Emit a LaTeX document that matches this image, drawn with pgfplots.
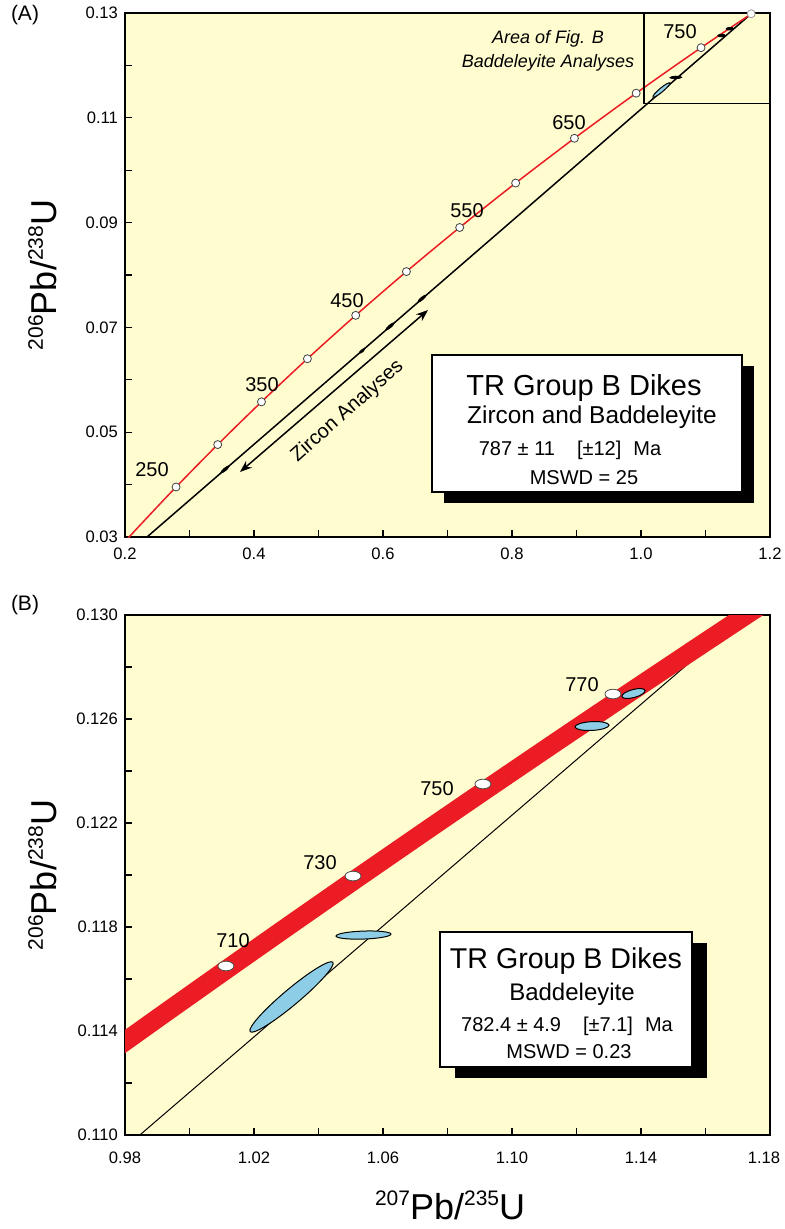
\documentclass[border=0pt]{standalone}
\usepackage{fontspec}
\setmainfont{Liberation Sans}
\usepackage{pgfplots}
\pgfplotsset{compat=1.18}
\usetikzlibrary{arrows.meta}

\definecolor{paper}{HTML}{FFFDCF}
\definecolor{conc}{HTML}{EC1C24}
\definecolor{ellb}{HTML}{8ECDE6}

\newcommand\iso[1]{\raisebox{6.8pt}{\fontsize{10.5}{11}\selectfont #1}}

\pgfplotsset{
  panel/.style={
    scale only axis, width=322.5pt,
    axis background/.style={fill=paper},
    axis line style={line width=0.8pt},
    tick align=inside, tick pos=left,
    minor tick num=1,
    major tick length=3.5pt, minor tick length=3.5pt,
    tick style={black, line width=0.6pt},
    /pgf/number format/assume math mode=true,
    tick label style={font=\fontsize{8.3}{10}\selectfont},
    ylabel style={at={(axis description cs:-0.128,0.5)}, anchor=center,
      font=\fontsize{18}{20}\selectfont},
  },
  ell/.style n args={4}{only marks, mark=*, mark size=1pt,
    mark options={fill=#4, draw=black, line width=0.5pt, rotate=#1, xscale=#2, yscale=#3}},
}

\begin{document}
\begin{tikzpicture}
\path[use as bounding box] (-62.5pt,6.5pt) rectangle (330pt,-608pt);

% ---------------- panel A
\begin{axis}[panel, name=A, at={(0pt,0pt)}, anchor=north west, height=262pt,
  xmin=0.2, xmax=1.2, ymin=0.03, ymax=0.13,
  xtick={0.2,0.4,...,1.2},
  ytick={0.03,0.05,0.07,0.09,0.11,0.13},
  xticklabel style={yshift=-2pt, /pgf/number format/.cd, fixed, fixed zerofill, precision=1},
  yticklabel style={/pgf/number format/.cd, fixed, fixed zerofill, precision=2},
  ylabel={\iso{206}Pb/\iso{238}U},
]
% discordia
\addplot[black, line width=0.75pt] coordinates {(0.2341,0.03) (1.1708,0.12985)};
% zircon and baddeleyite analyses (tiny at this scale)
\addplot[ell={40}{2.6}{0.6}{black}] coordinates {(0.355,0.0429) (0.6109,0.0702) (0.6605,0.0755)};
\addplot[ell={40}{1.6}{0.5}{black}] coordinates {(0.5674,0.0655)};
\addplot[ell={40}{5.5}{1.0}{ellb}] coordinates {(1.0316,0.1153)};
\addplot[ell={2}{2.8}{0.6}{black}] coordinates {(1.0540,0.1177)};
\addplot[ell={3}{1.8}{0.6}{black}] coordinates {(1.1248,0.1257) (1.1377,0.1270)};
% concordia
\addplot[conc, line width=0.75pt, smooth] coordinates {
  (0.2000,0.02913) (0.21770,0.031511) (0.27917,0.039543) (0.34374,0.047637)
  (0.41156,0.055794) (0.48281,0.064016) (0.55766,0.072300) (0.63628,0.080650)
  (0.71887,0.089064) (0.80563,0.097544) (0.89677,0.106090) (0.99251,0.114702)
  (1.09308,0.123382) (1.19873,0.132129)};
\addplot[only marks, mark=*, mark size=2pt, mark options={fill=white, draw=black!75, line width=0.4pt}]
  coordinates {
  (0.27917,0.039543) (0.34374,0.047637) (0.41156,0.055794) (0.48281,0.064016)
  (0.55766,0.072300) (0.63628,0.080650) (0.71887,0.089064) (0.80563,0.097544)
  (0.89677,0.106090) (0.99251,0.114702) (1.09308,0.123382)};
\addplot[only marks, mark=*, mark size=2pt, mark options={fill=white, draw=black!40, line width=0.4pt}]
  coordinates {(1.1708,0.12985)};
% area of fig. B
\addplot[black, line width=0.8pt] coordinates {(1.005,0.1127) (1.2,0.1127) (1.2,0.13) (1.005,0.13) (1.005,0.1127)};
% zircon arrow
\addplot[black, line width=0.75pt, {Stealth[length=6pt,width=4.5pt]}-{Stealth[length=6pt,width=4.5pt]}]
  coordinates {(0.3783,0.04241) (0.6698,0.07332)};
\node[font=\fontsize{10}{12}\selectfont, rotate=41.5, inner sep=0pt] at (axis cs:0.5450,0.0540) {Zircon Analyses};
\begin{scope}[font=\fontsize{10}{12}\selectfont]
\node at (axis cs:0.2419,0.0428) {250};
\node at (axis cs:0.4124,0.0590) {350};
\node at (axis cs:0.5442,0.0752) {450};
\node at (axis cs:0.7302,0.0922) {550};
\node at (axis cs:0.8884,0.1090) {650};
\node at (axis cs:1.0605,0.1264) {750};
\end{scope}
\end{axis}

% ---------------- panel B
\begin{axis}[panel, name=B, at={(0pt,-301pt)}, anchor=north west, height=260pt,
  xmin=0.98, xmax=1.18, ymin=0.110, ymax=0.130,
  xtick={0.98,1.02,1.06,1.10,1.14,1.18},
  xticklabels={0.98,1.02,1.06,1.10,1.14,\hspace*{-6pt}1.18},
  ytick={0.110,0.114,0.118,0.122,0.126,0.130},
  xticklabel style={yshift=-5pt},
  yticklabel style={/pgf/number format/.cd, fixed, fixed zerofill, precision=3},
  ylabel={\iso{206}Pb/\iso{238}U},
  xlabel={\iso{207}Pb/\iso{235}U},
  xlabel style={at={(axis description cs:0.504,-0.135)}, anchor=center,
    font=\fontsize{18}{20}\selectfont},
]
\addplot[black, line width=0.5pt] coordinates {(0.9846,0.110) (1.1708,0.12985)};
\addplot[conc, line width=9.5pt] coordinates {
  (0.97298,0.112975) (0.99251,0.114702) (1.01223,0.116433) (1.03215,0.118166)
  (1.05226,0.119902) (1.07257,0.121640) (1.09308,0.123382) (1.11380,0.125126)
  (1.13472,0.126872) (1.15585,0.128622) (1.17718,0.130375) (1.19873,0.132129)};
\addplot[only marks, mark=*, mark size=1pt,
  mark options={fill=white, draw=black!70, line width=0.4pt, xscale=4, yscale=2.4}]
  coordinates {(1.0113,0.1165) (1.0507,0.11996) (1.0910,0.1235) (1.1313,0.12696)};
\addplot[ell={40}{27}{4}{ellb}] coordinates {(1.03163,0.11531)};
\addplot[ell={2}{13.75}{2}{ellb}] coordinates {(1.05395,0.11769)};
\addplot[ell={3}{8.5}{2.2}{ellb}] coordinates {(1.12481,0.12573)};
\addplot[ell={15}{6}{2}{ellb}] coordinates {(1.13767,0.12698)};
\begin{scope}[font=\fontsize{10}{12}\selectfont]
\node at (axis cs:1.01349,0.11746) {710};
\node at (axis cs:1.04047,0.12046) {730};
\node at (axis cs:1.07674,0.12331) {750};
\node at (axis cs:1.12171,0.12731) {770};
\end{scope}
\end{axis}

% panel letters
\node[font=\fontsize{10.5}{12}\selectfont] at (-50pt,-1pt) {(A)};
\node[font=\fontsize{10.5}{12}\selectfont] at (-50pt,-296pt) {(B)};

% area of fig B caption
\node[font=\itshape\fontsize{9}{11}\selectfont, anchor=base] at (211.5pt,-15.5pt) {Area of Fig. B};
\node[font=\itshape\fontsize{9}{11}\selectfont, anchor=base] at (211.5pt,-27.5pt) {Baddeleyite Analyses};

% box A
\fill[black] (159.5pt,-176.5pt) rectangle (314.5pt,-245pt);
\draw[fill=white, line width=0.6pt] (153.5pt,-171pt) rectangle (308.5pt,-239.5pt);
\node[anchor=base, font=\fontsize{14.5}{16}\selectfont] at (229.5pt,-191pt) {TR Group B Dikes};
\node[anchor=base, font=\fontsize{12.2}{14}\selectfont] at (233.5pt,-205pt) {Zircon and Baddeleyite};
\node[anchor=base, font=\fontsize{10}{12}\selectfont] at (222.5pt,-221pt) {787 ± 11\hspace{1.1em}[±12]\hspace{0.6em}Ma};
\node[anchor=base, font=\fontsize{10}{12}\selectfont] at (229.5pt,-235.5pt) {MSWD = 25};

% box B
\fill[black] (165pt,-465pt) rectangle (291pt,-532.5pt);
\draw[fill=white, line width=0.6pt] (157.5pt,-459.5pt) rectangle (283.5pt,-527pt);
\node[anchor=base, font=\fontsize{14.3}{16}\selectfont] at (220.5pt,-477.5pt) {TR Group B Dikes};
\node[anchor=base, font=\fontsize{12}{14}\selectfont] at (223.5pt,-493.5pt) {Baddeleyite};
\node[anchor=base, font=\fontsize{10}{12}\selectfont] at (221pt,-509pt) {782.4 ± 4.9\hspace{1.1em}[±7.1]\hspace{0.6em}Ma};
\node[anchor=base, font=\fontsize{10}{12}\selectfont] at (222pt,-522.5pt) {MSWD = 0.23};
\end{tikzpicture}
\end{document}
